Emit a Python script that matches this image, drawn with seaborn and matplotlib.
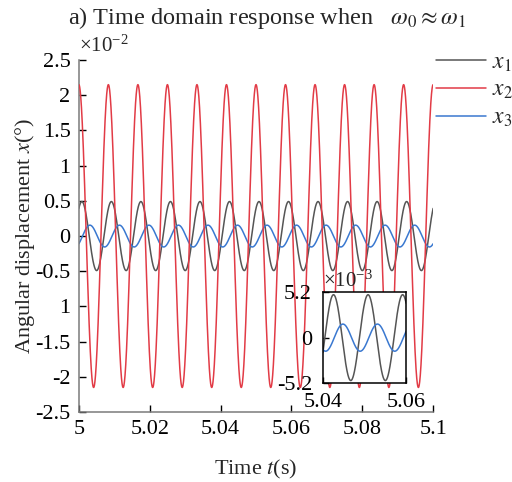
import numpy as np
import pandas as pd
import matplotlib
matplotlib.use("Agg")
import matplotlib.pyplot as plt
import seaborn as sns

sns.set_theme(style="white")
plt.rcParams["font.family"] = ["Liberation Serif", "DejaVu Serif"]
plt.rcParams["mathtext.fontset"] = "stix"

# Steady-state response of the three coordinates (amplitudes in units of 1e-2 deg)
series_names = ["$x_1$", "$x_2$", "$x_3$"]
series_colors = ["#555555", "#e23b46", "#3a78d0"]
amplitude = [0.49, 2.15, 0.155]
phase_lag = [0.64, 0.0, 2.35]      # rad, relative to x2
drive_freq = 120.0                 # Hz
t_start, t_end = 5.0, 5.1

x_ticks = [5, 5.02, 5.04, 5.06, 5.08, 5.1]
x_tick_labels = ["5", "5.02", "5.04", "5.06", "5.08", "5.1"]
y_ticks = [2.5, 2, 1.5, 1, 0.5, 0, -0.5, -1, -1.5, -2, -2.5]
y_tick_labels = ["2.5", "2", "1.5", "1", "0.5", "0", "-0.5", "1", "-1.5", "-2", "-2.5"]
inset_x_ticks = [5.04, 5.06]
inset_x_tick_labels = ["5.04", "5.06"]
inset_y_ticks = [5.2, 0, -5.2]
inset_y_tick_labels = ["5.2", "0", "-5.2"]

t = np.linspace(t_start, t_end, 3001)
frames = []
for name, a, p in zip(series_names, amplitude, phase_lag):
    frames.append(pd.DataFrame({
        "t": t,
        "x": a * np.cos(2 * np.pi * drive_freq * (t - t_start) - p),
        "series": name,
    }))
data = pd.concat(frames, ignore_index=True)

fig = plt.figure(figsize=(5.12, 4.82), dpi=100)
ax = fig.add_axes([0.154, 0.145, 0.692, 0.7305])

palette = dict(zip(series_names, series_colors))
sns.lineplot(data=data, x="t", y="x", hue="series", palette=palette,
             hue_order=series_names, linewidth=1.1, ax=ax, legend=False)
for line, name in zip(ax.get_lines(), series_names):
    line.set_label(name)
    if name == "$x_2$":
        line.set_zorder(3)

ax.set_xlim(t_start, t_end)
ax.set_ylim(-2.5, 2.5)
ax.set_xticks(x_ticks)
ax.set_xticklabels(x_tick_labels)
ax.set_yticks(y_ticks)
ax.set_yticklabels(y_tick_labels)
ax.tick_params(direction="in", length=5, width=1, colors="black",
               labelsize=16, pad=6, left=True, bottom=True)
for side in ["top", "right"]:
    ax.spines[side].set_visible(False)
for side in ["left", "bottom"]:
    ax.spines[side].set_color("#7a7a7a")
    ax.spines[side].set_linewidth(1.1)
ax.set_xlabel("Time $t$(s)", fontsize=16, labelpad=13)
ax.set_ylabel("Angular displacement $x$(°)", fontsize=16, labelpad=-1)
ax.text(0.0, 1.008, "×10$^{\\mathregular{-2}}$", transform=ax.transAxes,
        fontsize=15, ha="left", va="bottom")

fig.text(0.522, 0.962, "a) Time domain response when   $\\omega_0 \\approx \\omega_1$",
         fontsize=17.5, ha="center", va="center")

handles = ax.get_lines()[:3]
fig.legend(handles, series_names, loc="upper left",
           bbox_to_anchor=(0.834, 0.912), frameon=False, fontsize=17,
           handlelength=2.1, handletextpad=0.25, labelspacing=0.25,
           borderaxespad=0)

# Zoomed view of x1 and x3 (units of 1e-3 deg)
ins = fig.add_axes([0.631, 0.205, 0.162, 0.189])
inset_data = data[data["series"] != "$x_2$"].copy()
inset_data["x"] = inset_data["x"] * 10
sns.lineplot(data=inset_data, x="t", y="x", hue="series",
             palette=palette, hue_order=["$x_1$", "$x_3$"],
             linewidth=1.1, ax=ins, legend=False)
ins.set_facecolor("white")
ins.set_xlim(5.04, 5.06)
ins.set_ylim(-5.2, 5.2)
ins.set_xticks(inset_x_ticks)
ins.set_xticklabels(inset_x_tick_labels)
ins.set_yticks(inset_y_ticks)
ins.set_yticklabels(inset_y_tick_labels)
ins.set_xlabel("")
ins.set_ylabel("")
ins.tick_params(direction="in", length=4, width=1, colors="black",
                labelsize=16, left=True, bottom=True)
ins.tick_params(axis="x", pad=7)
ins.tick_params(axis="y", pad=8)
for side in ins.spines.values():
    side.set_visible(True)
    side.set_color("black")
    side.set_linewidth(1.1)
ins.text(0.0, 1.0, "×10$^{\\mathregular{-3}}$", transform=ins.transAxes,
         fontsize=15, ha="left", va="bottom")

fig.savefig("out.png", dpi=100)
